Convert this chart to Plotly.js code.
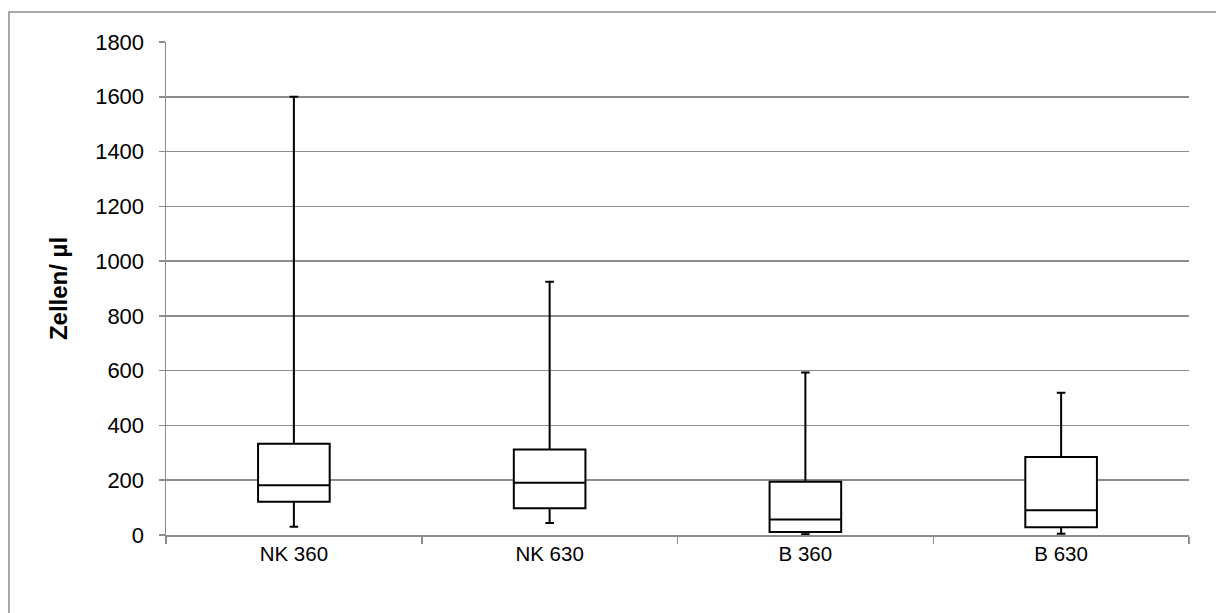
<!DOCTYPE html>
<html>
<head>
<meta charset="utf-8">
<script src="https://cdn.plot.ly/plotly-3.0.1.min.js"></script>
<style>
html,body{margin:0;padding:0;background:#fff;}
#chart{width:1216px;height:613px;}
</style>
</head>
<body>
<div id="chart"></div>
<script>
const categories = ["NK 360", "NK 630", "B 360", "B 630"];
const lowerWhisker = [30, 44, 3, 5];
const q1Values = [121, 98, 11, 28];
const medianValues = [182, 191, 57, 90];
const q3Values = [333, 312, 194, 285];
const upperWhisker = [1600, 925, 593, 519];
const yTicks = [0, 200, 400, 600, 800, 1000, 1200, 1400, 1600, 1800];

const trace = {
  type: "box",
  x: categories,
  q1: q1Values,
  median: medianValues,
  q3: q3Values,
  lowerfence: lowerWhisker,
  upperfence: upperWhisker,
  boxpoints: false,
  fillcolor: "#ffffff",
  line: {color: "#000000", width: 2},
  whiskerwidth: 0.12,
  hoverinfo: "skip",
  showlegend: false
};

const grey = "#8c8c8c";
const layout = {
  width: 1216,
  height: 613,
  margin: {l: 166, r: 27, t: 42, b: 78},
  paper_bgcolor: "#ffffff",
  plot_bgcolor: "#ffffff",
  font: {family: "Liberation Sans, Arial, sans-serif", size: 21, color: "#000000"},
  boxgap: 0.6,
  xaxis: {
    type: "category",
    tickson: "boundaries",
    ticks: "outside",
    ticklen: 7,
    tickcolor: grey,
    tickwidth: 1.5,
    showline: true,
    linecolor: grey,
    linewidth: 1.5,
    showgrid: false,
    zeroline: false,
    tickfont: {size: 20.5},
    ticklabelstandoff: 0
  },
  yaxis: {
    range: [0, 1800],
    tickvals: yTicks,
    ticktext: yTicks.map(String),
    ticks: "outside",
    ticklen: 6,
    tickcolor: grey,
    tickwidth: 1.5,
    showline: true,
    linecolor: grey,
    linewidth: 1.5,
    showgrid: true,
    gridcolor: grey,
    gridwidth: 1.5,
    zeroline: false,
    tickfont: {size: 22},
    ticklabelstandoff: 10,
    title: {text: "<b>Zellen/ µl</b>", font: {size: 24}, standoff: 20}
  },
  shapes: [{
    type: "rect",
    xref: "paper", yref: "paper",
    x0: -0.1535, x1: 1.2, y0: -0.3, y1: 1.0609,
    line: {color: grey, width: 1.5},
    fillcolor: "rgba(0,0,0,0)",
    layer: "below"
  }]
};

Plotly.newPlot("chart", [trace], layout, {staticPlot: true, displayModeBar: false});
</script>
</body>
</html>
